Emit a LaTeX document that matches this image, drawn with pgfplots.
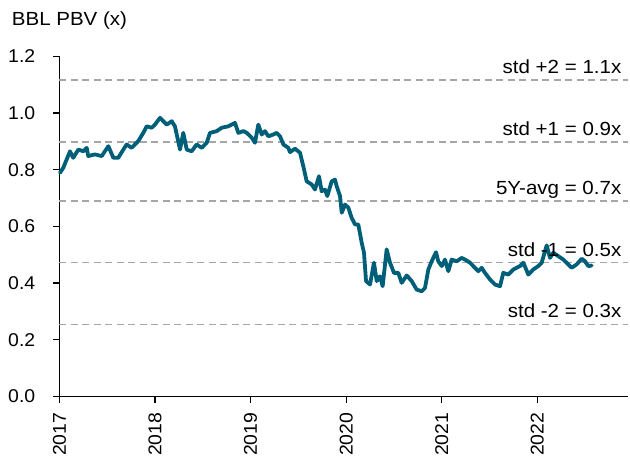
\documentclass[border=0pt]{standalone}
\usepackage{fontspec}
\setmainfont[FakeStretch=1.08]{Liberation Sans}
\newfontfamily\tickfont[FakeStretch=1.05]{Liberation Sans}
\usepackage{pgfplots}
\pgfplotsset{compat=1.18}
\definecolor{lineblue}{RGB}{0,95,120}
\definecolor{dashgray}{RGB}{166,166,166}
\begin{document}
\fontsize{19bp}{22bp}\selectfont
\begin{tikzpicture}
\path[use as bounding box] (-59.4bp,-60.5bp) rectangle (570.6bp,396.5bp);
\begin{axis}[
  at={(0,0)}, anchor=south west,
  scale only axis, width=568.6bp, height=340.2bp,
  xmin=2017, xmax=2022.949, ymin=0, ymax=1.2,
  axis x line=bottom, axis y line=left,
  axis line style={-, black, line width=1.2bp},
  tick style={black, line width=1.2bp},
  tick align=outside, major tick length=6bp,
  xtick={2017,2018,2019,2020,2021,2022},
  xticklabels={2017,2018,2019,2020,2021,2022},
  ytick={0,0.2,0.4,0.6,0.8,1.0,1.2},
  yticklabel style={/pgf/number format/fixed, /pgf/number format/fixed zerofill, /pgf/number format/precision=1, /pgf/number format/assume math mode=true, inner sep=0pt, anchor=east, xshift=-18bp},
  xticklabel style={inner sep=0pt, yshift=-10bp, rotate=90, anchor=east},
  every tick label/.append style={font=\tickfont\fontsize{18.5bp}{22bp}\selectfont},
  clip=false,
]
\addplot[dashgray, line width=1.6bp, dash pattern=on 7bp off 4.5bp] coordinates {(2017,1.116) (2022.949,1.116)};
\addplot[dashgray, line width=1.6bp, dash pattern=on 7bp off 4.5bp] coordinates {(2017,0.898) (2022.949,0.898)};
\addplot[dashgray, line width=1.6bp, dash pattern=on 7bp off 4.5bp] coordinates {(2017,0.689) (2022.949,0.689)};
\addplot[dashgray, line width=1.6bp, dash pattern=on 7bp off 4.5bp] coordinates {(2017,0.472) (2022.949,0.472)};
\addplot[dashgray, line width=1.6bp, dash pattern=on 7bp off 4.5bp] coordinates {(2017,0.254) (2022.949,0.254)};
\addplot[lineblue, line width=3.8bp, line join=round, line cap=round] coordinates {
(2017.006,0.789) (2017.041,0.807) (2017.111,0.865) (2017.145,0.842) (2017.198,0.871)
(2017.250,0.865) (2017.286,0.877) (2017.302,0.848) (2017.372,0.854) (2017.443,0.848)
(2017.512,0.883) (2017.564,0.842) (2017.616,0.842) (2017.669,0.871) (2017.704,0.889)
(2017.756,0.877) (2017.825,0.901) (2017.878,0.930) (2017.913,0.953) (2017.966,0.948)
(2018.000,0.959) (2018.053,0.983) (2018.123,0.959) (2018.175,0.971) (2018.209,0.953)
(2018.262,0.871) (2018.296,0.930) (2018.332,0.871) (2018.384,0.865) (2018.436,0.889)
(2018.489,0.877) (2018.541,0.895) (2018.576,0.930) (2018.646,0.936) (2018.698,0.948)
(2018.767,0.953) (2018.837,0.965) (2018.872,0.930) (2018.924,0.936) (2018.960,0.930)
(2019.012,0.913) (2019.046,0.895) (2019.081,0.959) (2019.117,0.924) (2019.151,0.936)
(2019.186,0.918) (2019.238,0.924) (2019.273,0.930) (2019.308,0.918) (2019.343,0.889)
(2019.395,0.877) (2019.413,0.862) (2019.465,0.874) (2019.517,0.860) (2019.552,0.812)
(2019.587,0.759) (2019.640,0.748) (2019.674,0.730) (2019.716,0.777) (2019.744,0.724)
(2019.779,0.730) (2019.803,0.707) (2019.849,0.759) (2019.883,0.765) (2019.901,0.742)
(2019.936,0.707) (2019.954,0.648) (2019.988,0.677) (2020.023,0.666) (2020.058,0.630)
(2020.093,0.607) (2020.127,0.607) (2020.163,0.542) (2020.187,0.507) (2020.208,0.407)
(2020.250,0.395) (2020.291,0.472) (2020.320,0.407) (2020.354,0.424) (2020.382,0.389)
(2020.424,0.519) (2020.459,0.472) (2020.501,0.436) (2020.546,0.436) (2020.581,0.401)
(2020.634,0.427) (2020.686,0.407) (2020.738,0.377) (2020.791,0.371) (2020.825,0.383)
(2020.860,0.448) (2020.895,0.477) (2020.940,0.509) (2020.964,0.477) (2021.000,0.460)
(2021.034,0.483) (2021.069,0.442) (2021.104,0.483) (2021.157,0.477) (2021.209,0.489)
(2021.244,0.483) (2021.296,0.472) (2021.330,0.460) (2021.383,0.442) (2021.418,0.454)
(2021.453,0.436) (2021.505,0.413) (2021.557,0.395) (2021.610,0.389) (2021.644,0.436)
(2021.697,0.430) (2021.749,0.448) (2021.819,0.460) (2021.854,0.472) (2021.906,0.430)
(2021.958,0.448) (2022.010,0.460) (2022.046,0.472) (2022.098,0.533) (2022.133,0.489)
(2022.167,0.507) (2022.220,0.495) (2022.272,0.483) (2022.324,0.466) (2022.360,0.454)
(2022.412,0.466) (2022.465,0.486) (2022.499,0.477) (2022.534,0.460) (2022.569,0.462)
};
\node[anchor=base east, inner sep=0pt, xshift=-6.5bp, yshift=6.5bp] at (axis cs:2022.949,1.116) {std +2 = 1.1x};
\node[anchor=base east, inner sep=0pt, xshift=-6.5bp, yshift=6.5bp] at (axis cs:2022.949,0.898) {std +1 = 0.9x};
\node[anchor=base east, inner sep=0pt, xshift=-6.5bp, yshift=6.5bp] at (axis cs:2022.949,0.689) {5Y-avg = 0.7x};
\node[anchor=base east, inner sep=0pt, xshift=-6.5bp, yshift=6.5bp] at (axis cs:2022.949,0.472) {std -1 = 0.5x};
\node[anchor=base east, inner sep=0pt, xshift=-6.5bp, yshift=6.5bp] at (axis cs:2022.949,0.254) {std -2 = 0.3x};
\end{axis}
\node[anchor=base west, inner sep=0pt] at (-47.7bp,370.5bp) {BBL PBV (x)};
\end{tikzpicture}
\end{document}
